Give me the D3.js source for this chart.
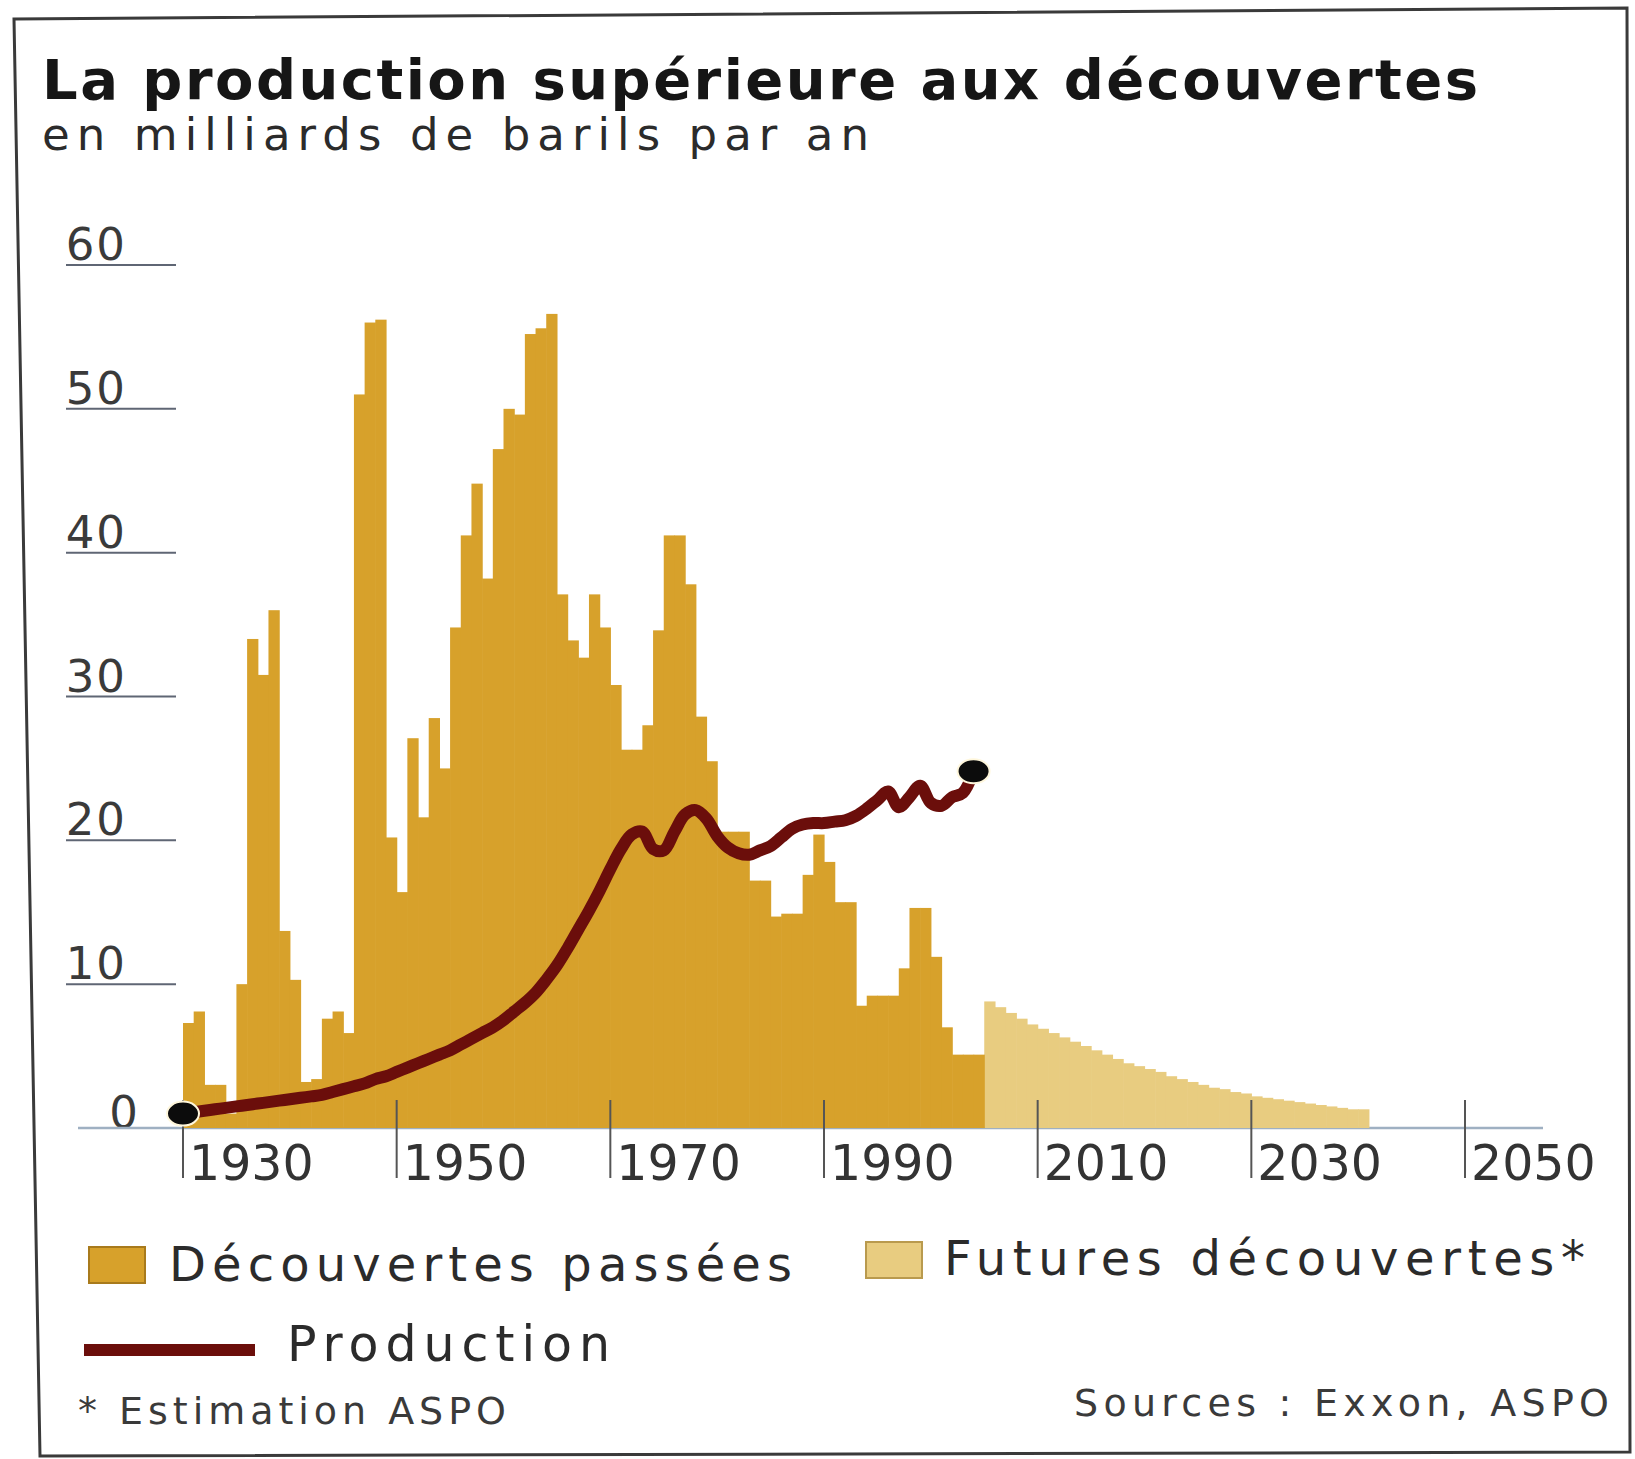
<!DOCTYPE html>
<html>
<head>
<meta charset="utf-8">
<script src="https://cdn.jsdelivr.net/npm/d3@7"></script>
<style>
  body { margin: 0; background: #fff; }
  svg text { font-family: "DejaVu Sans", Verdana, sans-serif; fill: #2b2b2b; }
</style>
</head>
<body>
<div id="chart"></div>
<script>
const width = 1635,
    height = 1459;

// past discoveries, one value per year from 1930
const pastStart = 1930;
const pastValues = [
    7.3, 8.1, 3.0, 3.0, 1.0, 10, 34, 31.5, 36, 13.7,
    10.3, 3.2, 3.4, 7.6, 8.1, 6.6, 51, 56, 56.2, 20.2,
    16.4, 27.1, 21.6, 28.5, 25, 34.8, 41.2, 44.8, 38.2, 47.2,
    50, 49.6, 55.2, 55.6, 56.6, 37.1, 33.9, 32.7, 37.1, 34.8,
    30.8, 26.3, 26.3, 28, 34.6, 41.2, 41.2, 37.8, 28.6, 25.5,
    20.6, 20.6, 20.6, 17.2, 17.2, 14.7, 14.9, 14.9, 17.6, 20.4,
    18.5, 15.7, 15.7, 8.5, 9.2, 9.2, 9.2, 11.1, 15.3, 15.3,
    11.9, 7.0, 5.1, 5.1, 5.1
];

// future discoveries (ASPO estimate), from 2005
const futureStart = 2005;
const futureValues = [
    8.8, 8.4, 8.0, 7.6, 7.2, 6.9, 6.6, 6.3, 6.0, 5.7,
    5.4, 5.1, 4.8, 4.5, 4.3, 4.1, 3.9, 3.6, 3.4, 3.2,
    3.0, 2.8, 2.7, 2.5, 2.4, 2.2, 2.1, 2.0, 1.9, 1.8,
    1.7, 1.6, 1.5, 1.4, 1.3, 1.3
];

// production, from 1930
const prodStart = 1930;
const prodValues = [
    1.0, 1.1, 1.2, 1.3, 1.4, 1.5, 1.6, 1.7, 1.8, 1.9,
    2.0, 2.1, 2.2, 2.3, 2.5, 2.7, 2.9, 3.1, 3.4, 3.6,
    3.9, 4.2, 4.5, 4.8, 5.1, 5.4, 5.8, 6.2, 6.6, 7.0,
    7.5, 8.1, 8.7, 9.4, 10.3, 11.3, 12.5, 13.8, 15.1, 16.5,
    18.0, 19.4, 20.4, 20.6, 19.4, 19.3, 20.6, 21.8, 22.1, 21.5,
    20.3, 19.5, 19.1, 19.0, 19.3, 19.6, 20.2, 20.8, 21.1, 21.2,
    21.2, 21.3, 21.4, 21.7, 22.2, 22.8, 23.4, 22.3, 23.0, 23.8,
    22.6, 22.4, 23.0, 23.3, 24.8
];

const yTicks = [0, 10, 20, 30, 40, 50, 60];
const xTicks = [1930, 1950, 1970, 1990, 2010, 2030, 2050];

const colPast = '#d7a12b',
    colFuture = '#e8cc80',
    colProd = '#6b0e0b';

const svg = d3.select('#chart').append('svg')
    .attr('width', width)
    .attr('height', height);

const x = d3.scaleLinear().domain([1930, 2050]).range([183, 1465]);
const y = d3.scaleLinear().domain([0, 60]).range([1128, 265]);

// frame (scanned page, slightly skewed)
svg.append('path')
    .attr('d', 'M14,19 L1627,8 L1630,1452 L40,1456 Z')
    .attr('fill', 'none')
    .attr('stroke', '#3a3a3a')
    .attr('stroke-width', 3);

// titles
svg.append('text')
    .attr('x', 42).attr('y', 99)
    .attr('font-size', 56)
    .attr('font-weight', 'bold')
    .style('fill', '#161616')
    .attr('textLength', 1436)
    .attr('lengthAdjust', 'spacing')
    .text('La production supérieure aux découvertes');

svg.append('text')
    .attr('x', 42).attr('y', 150)
    .attr('font-size', 45)
    .attr('textLength', 827)
    .attr('lengthAdjust', 'spacing')
    .text('en milliards de barils par an');

// y axis
const yAxis = svg.append('g').attr('class', 'y axis');
yAxis.selectAll('line')
    .data(yTicks.filter(d => d > 0))
    .enter().append('line')
    .attr('x1', 66).attr('x2', 176)
    .attr('y1', d => y(d)).attr('y2', d => y(d))
    .attr('stroke', '#5f6674')
    .attr('stroke-width', 2);

yAxis.selectAll('text')
    .data(yTicks)
    .enter().append('text')
    .attr('x', d => d === 0 ? 140 : 127)
    .attr('y', d => y(d) - (d === 0 ? 0 : 5))
    .attr('text-anchor', 'end')
    .attr('font-size', 45)
    .attr('letter-spacing', 2)
    .style('fill', '#3a3a3a')
    .text(d => d);

// baseline
svg.append('line')
    .attr('x1', 78).attr('x2', 1543)
    .attr('y1', y(0)).attr('y2', y(0))
    .attr('stroke', '#9fb0c2')
    .attr('stroke-width', 2.5);

// bars
const past = pastValues.map((v, i) => ({ year: pastStart + i, value: v }));
const future = futureValues.map((v, i) => ({ year: futureStart + i, value: v }));

svg.append('g').selectAll('rect')
    .data(future)
    .enter().append('rect')
    .attr('x', d => x(d.year))
    .attr('width', d => x(d.year + 1) - x(d.year) + 0.6)
    .attr('y', d => y(d.value))
    .attr('height', d => y(0) - y(d.value))
    .attr('fill', colFuture);

svg.append('g').selectAll('rect')
    .data(past)
    .enter().append('rect')
    .attr('x', d => x(d.year))
    .attr('width', d => x(d.year + 1) - x(d.year) + 0.6)
    .attr('y', d => y(d.value))
    .attr('height', d => y(0) - y(d.value))
    .attr('fill', colPast);

// x axis ticks and labels
const xAxis = svg.append('g').attr('class', 'x axis');
xAxis.selectAll('line')
    .data(xTicks)
    .enter().append('line')
    .attr('x1', d => x(d)).attr('x2', d => x(d))
    .attr('y1', y(0) - 28).attr('y2', y(0) + 50)
    .attr('stroke', '#555')
    .attr('stroke-width', 2);

xAxis.selectAll('text')
    .data(xTicks)
    .enter().append('text')
    .attr('x', d => x(d) + 6)
    .attr('y', y(0) + 52)
    .attr('font-size', 49)
    .style('fill', '#333')
    .text(d => d);

// production line
const prod = prodValues.map((v, i) => ({ year: prodStart + i, value: v }));
const line = d3.line()
    .x(d => x(d.year))
    .y(d => y(d.value))
    .curve(d3.curveCatmullRom.alpha(0.5));

svg.append('path')
    .datum(prod)
    .attr('d', line)
    .attr('fill', 'none')
    .attr('stroke', colProd)
    .attr('stroke-width', 12)
    .attr('stroke-linecap', 'round')
    .attr('stroke-linejoin', 'round');

svg.append('g').selectAll('ellipse')
    .data([prod[0], prod[prod.length - 1]])
    .enter().append('ellipse')
    .attr('cx', d => x(d.year))
    .attr('cy', d => y(d.value))
    .attr('rx', 16).attr('ry', 12)
    .attr('fill', '#0c0c0c')
    .attr('stroke', '#fff7dc')
    .attr('stroke-width', 2);

// legend
const legend = svg.append('g').attr('class', 'legend');
legend.append('rect')
    .attr('x', 89).attr('y', 1247).attr('width', 56).attr('height', 36)
    .attr('fill', colPast).attr('stroke', '#a87a1c').attr('stroke-width', 2);
legend.append('text')
    .attr('x', 169).attr('y', 1281)
    .attr('font-size', 48)
    .attr('textLength', 623).attr('lengthAdjust', 'spacing')
    .text('Découvertes passées');

legend.append('rect')
    .attr('x', 866).attr('y', 1242).attr('width', 56).attr('height', 36)
    .attr('fill', colFuture).attr('stroke', '#b99a4e').attr('stroke-width', 2);
legend.append('text')
    .attr('x', 944).attr('y', 1275)
    .attr('font-size', 48)
    .attr('textLength', 641).attr('lengthAdjust', 'spacing')
    .text('Futures découvertes*');

legend.append('line')
    .attr('x1', 84).attr('x2', 255)
    .attr('y1', 1350).attr('y2', 1350)
    .attr('stroke', colProd).attr('stroke-width', 12);
legend.append('text')
    .attr('x', 287).attr('y', 1361)
    .attr('font-size', 49)
    .attr('textLength', 323).attr('lengthAdjust', 'spacing')
    .text('Production');

svg.append('text')
    .attr('x', 78).attr('y', 1424)
    .attr('font-size', 38)
    .attr('textLength', 428).attr('lengthAdjust', 'spacing')
    .style('fill', '#3a3a3a')
    .text('* Estimation ASPO');

svg.append('text')
    .attr('x', 1074).attr('y', 1416)
    .attr('font-size', 38)
    .attr('textLength', 535).attr('lengthAdjust', 'spacing')
    .style('fill', '#3a3a3a')
    .text('Sources : Exxon, ASPO');
</script>
</body>
</html>
